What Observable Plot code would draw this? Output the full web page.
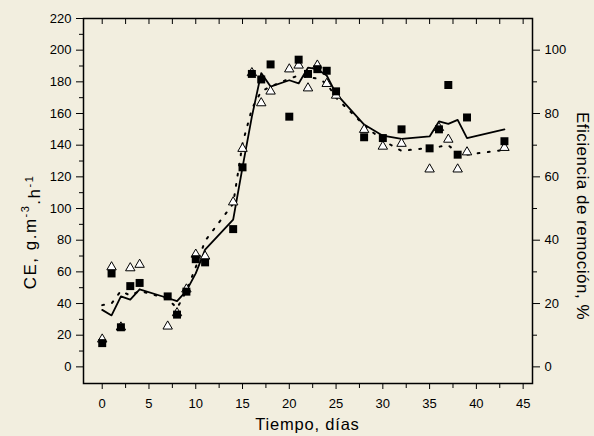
<!DOCTYPE html>
<html><head><meta charset="utf-8">
<script src="https://cdn.jsdelivr.net/npm/d3@7"></script>
<script src="https://cdn.jsdelivr.net/npm/@observablehq/plot@0.6"></script>
<style>
html,body{margin:0;padding:0;background:#f2eedf;}
svg{display:block}
</style></head><body><div id="chart"></div>
<script>
// Measurement days
const days = [0,1,2,3,4,7,8,9,10,11,14,15,16,17,18,20,21,22,23,24,25,28,30,32,35,36,37,38,39,43];
// CE, g.m-3.h-1 (filled squares)
const ceValues = [15,59,25,51,53,44.5,33,47.5,68,66,87,126,185,181.5,191,158,194,185,188,187,174,145,144.5,150,138,150,178,134,157.5,142.5];
// Eficiencia de remoción, % (open triangles)
const effValues = [8.7,31.5,12.5,31.2,32.3,12.8,17,24.5,35.5,34.9,52,68.9,92.8,83.3,87,94,95.2,88,95.2,89.4,85.7,74.9,69.6,70.5,62.4,75.5,71.8,62.4,67.8,69.2];
// CE model (solid line)
const ceModel = [36,32.5,44.5,42.5,49,43.5,41.5,48,59,74,93,126,158,185.5,177,181,179,189,188,184,172.5,153,146,144,145.5,155,153.5,156,144.5,150];
// Efficiency model, % (dotted line)
const effModel = [19.5,20,24,22.5,24,21.5,18.5,24,31.5,39.8,51.5,70.5,81.5,87,88.5,91,92,91.5,91,89.5,85,76.3,71.5,68.2,69.2,69.5,70,67.5,67,68.5];

// Axis ticks
const xTicks = [0,5,10,15,20,25,30,35,40,45];
const xMinorTicks = [2.5,7.5,12.5,17.5,22.5,27.5,32.5,37.5,42.5];
const yTicksLeft = [0,20,40,60,80,100,120,140,160,180,200,220];
const yMinorLeft = [10,30,50,70,90,110,130,150,170,190,210];
const yTicksRight = [0,20,40,60,80,100];
const yMinorRight = [10,30,50,70,90];

const effScale = 2; // 100 % on the right axis sits at 200 on the left axis

const W = 594, H = 436, ML = 83, MR = 62, MT = 18, MB = 53;
const plotH = H - MT - MB;

const sq = days.map((d,i) => ({day: d, v: ceValues[i]}));
const tri = days.map((d,i) => ({day: d, v: effValues[i] * effScale}));
const solid = days.map((d,i) => ({day: d, v: ceModel[i]}));
const dotted = days.map((d,i) => ({day: d, v: effModel[i] * effScale}));

const chart = Plot.plot({
  width: W, height: H,
  marginLeft: ML, marginRight: MR, marginTop: MT, marginBottom: MB,
  style: {background: "#f2eedf", fontFamily: "'Liberation Sans', Arial, sans-serif", fontSize: "13px", color: "black"},
  x: {domain: [-2, 46]},
  y: {domain: [-10.5, 220]},
  marks: [
    Plot.axisX({ticks: xTicks, tickSize: 6, tickPadding: 9, label: null}),
    Plot.axisX({ticks: xMinorTicks, tickSize: 5, tickFormat: () => "", label: null}),
    Plot.ruleX(xTicks.concat(xMinorTicks), {insetBottom: plotH - 6, stroke: "black"}),
    Plot.axisY({anchor: "left", ticks: yTicksLeft, tickSize: 7, tickPadding: 5, label: null}),
    Plot.axisY({anchor: "left", ticks: yMinorLeft, tickSize: 4, tickFormat: () => "", label: null}),
    Plot.axisY({anchor: "right", ticks: yTicksRight.map(v => v * effScale), tickFormat: d => String(d / effScale), tickSize: 7, tickPadding: 5, label: null}),
    Plot.axisY({anchor: "right", ticks: yMinorRight.map(v => v * effScale), tickSize: 4, tickFormat: () => "", label: null}),
    Plot.line(dotted, {x: "day", y: "v", stroke: "black", strokeWidth: 2, strokeDasharray: "1.8,8.5"}),
    Plot.line(solid, {x: "day", y: "v", stroke: "black", strokeWidth: 1.8}),
    Plot.dot(tri, {x: "day", y: "v", symbol: "triangle", r: 3.5, fill: "white", stroke: "black", strokeWidth: 1}),
    Plot.dot(sq, {x: "day", y: "v", symbol: "square", r: 4.5, fill: "black", stroke: "none"}),
    Plot.frame({stroke: "black", strokeWidth: 1.5})
  ]
});
document.getElementById("chart").appendChild(chart);

const svg = d3.select(chart);
const font = "'Liberation Sans', Arial, sans-serif";
svg.append("text")
  .attr("transform", `translate(${ML + (W - ML - MR) / 2},430)`)
  .attr("text-anchor", "middle")
  .style("font-family", font).style("font-size", "16.5px").style("letter-spacing", "0.8px")
  .attr("fill", "black")
  .text("Tiempo, días");
svg.append("text")
  .attr("transform", "translate(577,216) rotate(90)")
  .attr("text-anchor", "middle")
  .style("font-family", font).style("font-size", "17px").style("letter-spacing", "0.5px")
  .attr("fill", "black")
  .text("Eficiencia de remoción, %");
const lt = svg.append("text")
  .attr("transform", "translate(36,232) rotate(-90)")
  .attr("text-anchor", "middle")
  .style("font-family", font).style("font-size", "17px").style("letter-spacing", "1.5px")
  .attr("fill", "black");
lt.append("tspan").text("CE, g.m");
lt.append("tspan").attr("dy", "-0.6em").style("font-size", "11px").text("-3");
lt.append("tspan").attr("dy", "0.6em").text(".h");
lt.append("tspan").attr("dy", "-0.6em").style("font-size", "11px").text("-1");
</script></body></html>
